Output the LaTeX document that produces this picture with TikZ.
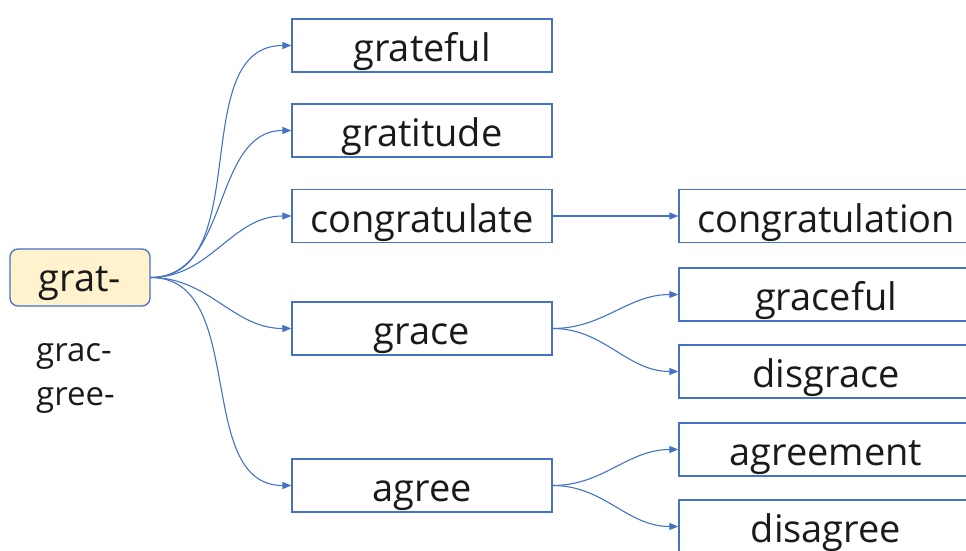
\documentclass[tikz,border=0pt]{standalone}
\usepackage{fontspec}
\setmainfont{Open Sans}
\usetikzlibrary{arrows.meta}
\definecolor{edgeblue}{HTML}{4472C4}
\definecolor{rootfill}{HTML}{FFF2CC}
\definecolor{txt}{HTML}{1A1A1A}
\begin{document}
\begin{tikzpicture}[x=1pt,y=1pt,
  wordbox/.style={draw=edgeblue,line width=1.3pt,minimum width=260pt,minimum height=53pt,inner sep=0pt,text height=40pt,text depth=8pt,text=txt,font=\fontsize{38}{44}\selectfont},
  rightbox/.style={wordbox,minimum width=294pt},
  rootbox/.style={draw=edgeblue,fill=rootfill,line width=1.3pt,rounded corners=8pt,minimum width=140pt,minimum height=57pt,inner sep=0pt,text height=38pt,text depth=10pt,text=txt,font=\fontsize{38}{44}\selectfont},
  plain/.style={text=txt,font=\fontsize{33}{38}\selectfont,inner sep=0pt,anchor=base west},
  link/.style={draw=edgeblue,line width=1.1pt,-{Triangle[width=7pt,length=9pt]}}
]
\useasboundingbox (0,0) rectangle (966,550);
\node[rootbox] (root) at (80,272.5) {grat-};
\node[plain] (grac) at (36,188.3) {grac-};
\node[plain] (gree) at (36,145) {gree-};

\node[wordbox] (grateful) at (422,504.5) {grateful};
\node[wordbox] (gratitude) at (422,419.5) {gratitude};
\node[wordbox] (congratulate) at (422,334) {congratulate};
\node[wordbox] (grace) at (422,221.5) {grace};
\node[wordbox] (agree) at (422,64.5) {agree};

\node[rightbox] (congratulation) at (826,334) {congratulation};
\node[rightbox] (graceful) at (826,255.5) {graceful};
\node[rightbox] (disgrace) at (826,178.5) {disgrace};
\node[rightbox] (agreement) at (826,100.5) {agreement};
\node[rightbox] (disagree) at (826,23.5) {disagree};

\foreach \t in {grateful,gratitude,congratulate,grace,agree}
  \draw[link] (root.east) to[out=0,in=180] (\t.west);
\draw[link] (congratulate.east) -- (congratulation.west);
\draw[link] (grace.east) to[out=0,in=180] (graceful.west);
\draw[link] (grace.east) to[out=0,in=180] (disgrace.west);
\draw[link] (agree.east) to[out=0,in=180] (agreement.west);
\draw[link] (agree.east) to[out=0,in=180] (disagree.west);
\end{tikzpicture}
\end{document}
